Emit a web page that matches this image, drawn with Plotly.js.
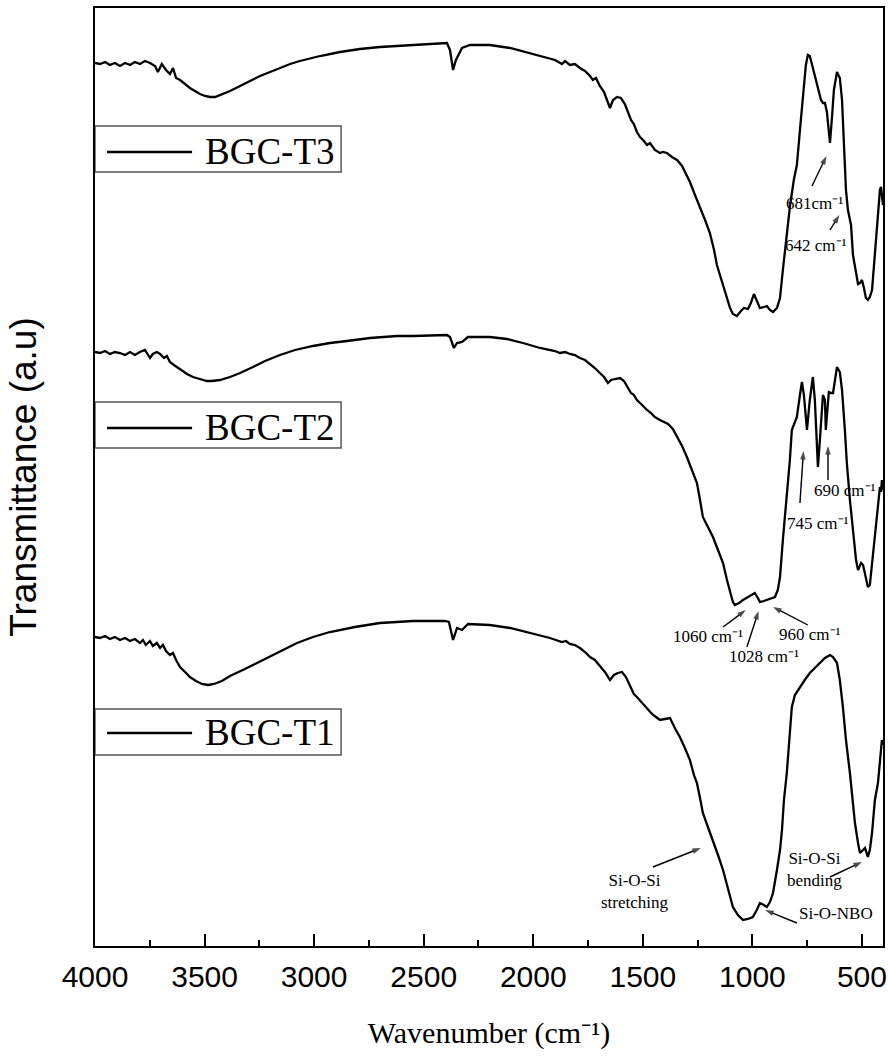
<!DOCTYPE html>
<html><head><meta charset="utf-8">
<script src="https://cdn.plot.ly/plotly-3.0.1.min.js"></script>
<style>html,body{margin:0;padding:0;background:#fff}</style>
</head><body><div id="chart" style="width:888px;height:1062px"></div>
<script>
// Wavenumber (cm-1) and transmittance (a.u., offset-stacked)
const seriesNames = ['BGC-T3', 'BGC-T2', 'BGC-T1'];

const T3_wavenumber = [
 4000,3977,3954,3932,3909,3886,3863,3840,3818,3795,
 3772,3749,3726,3713,3695,3676,3658,3644,3630,3612,
 3589,3567,3544,3521,3498,3475,3452,3430,3384,3338,
 3293,3247,3201,3156,3110,3065,2973,2882,2791,2700,
 2608,2517,2426,2394,2380,2366,2353,2340,2325,2289,
 2198,2106,2015,1947,1901,1869,1855,1833,1810,1787,
 1764,1741,1728,1714,1696,1677,1664,1650,1636,1618,
 1600,1582,1568,1554,1541,1527,1513,1499,1481,1467,
 1445,1422,1408,1390,1367,1344,1321,1299,1285,1262,
 1239,1216,1194,1175,1162,1148,1134,1116,1102,1089,
 1071,1052,1039,1020,1007,993,980,966,948,934,
 920,906,888,874,861,847,829,811,797,783,
 770,756,747,738,724,710,701,687,678,669,
 660,646,637,628,614,601,591,582,573,564,
 560,550,541,527,518,509,500,491,482,473,
 464,454,445,436,427,418,413,409,404];
const T3_transmittance = [
 883,882,884,881,883,880,883,881,884,882,
 885,883,880,874,882,876,872,878,868,866,
 862,858,855,852,850,849,849,851,855,860,
 865,870,874,878,882,885,890,894,897,899,
 900,901,902,903,896,876,886,891,898,901,
 901,898,893,889,886,882,885,881,882,878,
 875,870,866,868,860,854,846,838,846,849,
 848,842,834,826,822,814,809,806,801,803,
 796,793,794,793,789,786,780,771,764,751,
 739,726,713,696,681,671,661,648,638,632,
 630,635,638,637,643,652,646,638,639,640,
 636,634,638,648,676,706,739,766,781,816,
 851,881,891,890,878,866,858,846,843,843,
 834,803,828,856,874,868,846,796,756,736,
 731,721,691,671,662,663,666,658,648,646,
 649,656,681,706,724,756,759,748,741];

const T2_wavenumber = [
 4000,3977,3954,3932,3909,3886,3863,3840,3818,3795,
 3772,3749,3736,3718,3703,3685,3672,3658,3640,3621,
 3603,3580,3553,3521,3489,3466,3430,3384,3338,3279,
 3224,3156,3087,3005,2928,2850,2745,2622,2549,2394,
 2380,2362,2348,2325,2298,2198,2120,2047,1969,1901,
 1878,1855,1833,1810,1787,1764,1741,1719,1696,1677,
 1659,1645,1627,1604,1586,1568,1554,1541,1527,1508,
 1495,1481,1463,1445,1422,1404,1385,1363,1344,1321,
 1299,1276,1253,1239,1226,1203,1180,1157,1134,1116,
 1102,1089,1080,1061,1043,1020,1002,989,975,966,
 948,934,915,897,884,874,861,843,829,820,
 806,797,783,774,765,751,738,724,715,701,
 692,678,669,665,656,651,642,632,623,614,
 601,591,578,569,555,541,527,518,504,495,
 482,473,464,450,441,432,422,418,413,409,
 404];
const T2_transmittance = [
 594,593,595,592,594,593,591,594,591,594,
 596,588,592,594,592,588,590,584,581,578,
 575,572,569,567,565,565,566,569,573,579,
 585,591,596,600,603,605,608,610,610,611,
 609,598,603,604,609,609,607,603,598,595,
 593,594,592,591,588,586,582,578,573,569,
 563,566,567,568,565,559,553,551,546,542,
 539,536,533,529,526,524,522,517,509,500,
 489,476,463,446,429,419,409,396,383,366,
 353,344,341,343,346,349,352,353,348,344,
 345,346,347,349,356,369,406,449,486,516,
 524,529,551,564,551,516,546,569,546,479,
 506,551,546,516,541,554,553,553,566,579,
 574,556,516,483,446,416,386,376,383,381,
 366,359,361,389,411,429,451,459,454,466,
 456];

const T1_wavenumber = [
 4000,3977,3954,3932,3909,3886,3863,3840,3818,3795,
 3781,3768,3749,3736,3718,3703,3690,3676,3658,3644,
 3630,3612,3589,3567,3539,3512,3484,3457,3421,3384,
 3316,3233,3156,3078,3005,2928,2814,2700,2549,2403,
 2385,2366,2348,2325,2298,2198,2106,2015,1924,1869,
 1851,1833,1810,1787,1764,1741,1719,1696,1673,1650,
 1632,1614,1595,1577,1559,1541,1527,1508,1490,1477,
 1458,1440,1422,1399,1376,1354,1331,1308,1285,1267,
 1253,1239,1226,1203,1180,1157,1134,1111,1089,1066,
 1043,1020,998,980,966,948,934,920,906,888,
 874,865,856,843,829,820,806,783,761,738,
 715,692,669,646,632,614,601,587,573,555,
 541,532,518,509,495,486,473,464,454,441,
 427,418,409,404];
const T1_transmittance = [
 309,308,310,307,309,306,308,305,307,303,
 306,301,305,300,303,298,301,295,291,293,
 286,279,274,269,265,262,261,262,265,270,
 277,286,295,303,309,314,319,323,325,325,
 324,306,318,316,322,321,318,313,308,304,
 305,302,301,298,294,289,286,280,274,266,
 271,273,274,269,260,252,249,244,240,236,
 232,229,226,227,228,218,209,198,186,171,
 163,148,133,119,106,91,76,58,39,31,
 26,27,29,36,43,41,39,44,53,76,
 96,116,146,173,216,239,251,259,266,273,
 278,283,288,291,289,283,266,239,206,173,
 146,123,103,93,96,98,89,96,113,146,
 163,186,206,201];

const xTickVals = [4000, 3500, 3000, 2500, 2000, 1500, 1000, 500];
const xTickText = ['4000', '3500', '3000', '2500', '2000', '1500', '1000', '500'];

// peak labels: [text, x, y]
const peakLabels = [
 ['681cm\u207B\u00B9', 715, 743],
 ['642 cm\u207B\u00B9', 710, 701],
 ['745 cm\u207B\u00B9', 701, 423],
 ['690 cm\u207B\u00B9', 578, 456],
 ['1060 cm\u207B\u00B9', 1203, 310],
 ['1028 cm\u207B\u00B9', 947, 290],
 ['960 cm\u207B\u00B9', 737, 312],
 ['Si-O-Si<br>stretching', 1536, 55],
 ['Si-O-Si<br>bending', 715, 77],
 ['Si-O-NBO', 619, 33]
];
// arrows: [tailX, tailY, headX, headY]
const peakArrows = [
 [728, 760, 662, 790],
 [646, 716, 603, 731],
 [783, 443, 767, 495],
 [655, 466, 655, 500],
 [1134, 319, 1030, 336],
 [1025, 299, 972, 335],
 [747, 321, 906, 339],
 [1454, 79, 1235, 98],
 [646, 69, 500, 84],
 [797, 23, 942, 36]
];

const serif = 'Liberation Serif, Times New Roman, serif';
const sans = 'Liberation Sans, Arial, sans-serif';

const traces = [
 {x: T3_wavenumber, y: T3_transmittance, name: seriesNames[0]},
 {x: T2_wavenumber, y: T2_transmittance, name: seriesNames[1]},
 {x: T1_wavenumber, y: T1_transmittance, name: seriesNames[2]}
].map(t => Object.assign(t, {type: 'scatter', mode: 'lines', line: {color: '#000', width: 2.3}, showlegend: false, hoverinfo: 'skip'}));

// arrows as line segments ending in an arrow marker
const arrowX = [], arrowY = [], arrowSize = [];
peakArrows.forEach(a => { arrowX.push(a[0], a[2], null); arrowY.push(a[1], a[3], null); arrowSize.push(0, 9, 0); });
traces.push({type: 'scatter', mode: 'lines+markers', x: arrowX, y: arrowY, connectgaps: false,
  line: {color: '#000', width: 1.4},
  marker: {symbol: 'arrow', angleref: 'previous', size: arrowSize, color: '#000', line: {width: 0}},
  showlegend: false, hoverinfo: 'skip'});

// legend boxes (drawn as shapes): [y0, y1, lineY]
const legendBoxes = [[774, 820, 794], [498, 544, 518], [191, 237, 213]];
const shapes = [];
const annotations = [];
legendBoxes.forEach((b, i) => {
  shapes.push({type: 'rect', xref: 'x', yref: 'y', x0: 4000, x1: 2877, y0: b[0], y1: b[1],
    line: {color: '#555', width: 1.5}, fillcolor: '#fff', layer: 'above'});
  shapes.push({type: 'line', xref: 'x', yref: 'y', x0: 3945, x1: 3557, y0: b[2], y1: b[2],
    line: {color: '#000', width: 2.3}, layer: 'above'});
  annotations.push({xref: 'x', yref: 'y', x: 3507, y: b[2] + 1, xanchor: 'left', yanchor: 'middle',
    text: seriesNames[i], showarrow: false, font: {family: serif, size: 37, color: '#000'}});
});
peakLabels.forEach(p => annotations.push({xref: 'x', yref: 'y', x: p[1], y: p[2], text: p[0],
  showarrow: false, xanchor: 'center', yanchor: 'middle', font: {family: serif, size: 17, color: '#000'}}));

const layout = {
  width: 888, height: 1062,
  margin: {l: 95, r: 5, t: 8, b: 116},
  paper_bgcolor: '#fff', plot_bgcolor: '#fff',
  xaxis: {
    range: [4000, 404], tickvals: xTickVals, ticktext: xTickText,
    ticks: 'inside', ticklen: 12, tickwidth: 2, tickcolor: '#000',
    minor: {dtick: 250, tick0: 0, ticks: 'inside', ticklen: 6, tickwidth: 2, tickcolor: '#000'},
    showline: true, mirror: true, linecolor: '#000', linewidth: 2,
    showgrid: false, zeroline: false,
    tickfont: {family: sans, size: 30, color: '#000'},
    ticklabelstandoff: 3,
    title: {text: 'Wavenumber (cm\u207B\u00B9)', font: {family: serif, size: 30, color: '#000'}, standoff: 30}
  },
  yaxis: {
    range: [0, 938], showticklabels: false, ticks: '',
    showline: true, mirror: true, linecolor: '#000', linewidth: 2,
    showgrid: false, zeroline: false,
    title: {text: 'Transmittance (a.u)', font: {family: sans, size: 37, color: '#000'}, standoff: 45}
  },
  shapes: shapes,
  annotations: annotations
};

Plotly.newPlot('chart', traces, layout, {staticPlot: true, displayModeBar: false});
</script></body></html>
